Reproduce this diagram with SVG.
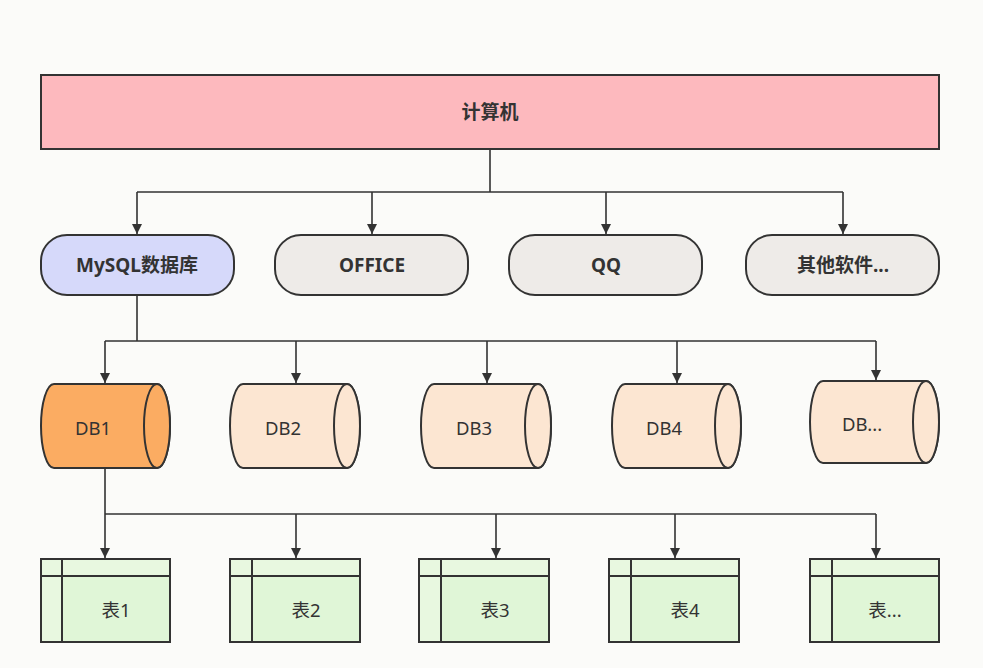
<svg xmlns="http://www.w3.org/2000/svg" width="983" height="668" viewBox="0 0 983 668">
<defs>
<marker id="arr" viewBox="0 0 10 10" refX="10" refY="5" markerWidth="10" markerHeight="10" markerUnits="userSpaceOnUse" orient="auto">
<path d="M0,0 L10,5 L0,10 z" fill="#333"/>
</marker>
<style>
text{font-family:"Noto Sans","Noto Sans CJK SC",sans-serif;fill:#333;text-anchor:middle;dominant-baseline:central}
.b{font-weight:bold;font-size:19px}
.r{font-size:18.5px}
.shape{stroke:#333;stroke-width:2}
.pill{fill:#EEEBE8}
.db{fill:#FCE6D2}
.tbl{fill:#E0F6D7}
.hdr{fill:#E8F8E0}
.line{fill:none;stroke:#333;stroke-width:2}
.conn{fill:none;stroke:#333;stroke-width:1.6}
</style>
</defs>
<rect width="983" height="668" fill="#FBFBF9"/>
<g id="computer">
<rect x="41" y="75" width="898" height="74" fill="#FDB9BE" class="shape"/>
<text x="490" y="112" class="b">计算机</text>
</g>
<g id="mysql">
<rect x="41" y="235" width="193" height="60" rx="26" fill="#D6D9FA" class="shape"/>
<text x="137" y="265" class="b">MySQL数据库</text>
</g>
<g id="office">
<rect x="275" y="235" width="193" height="60" rx="26" class="shape pill"/>
<text x="372" y="265" class="b">OFFICE</text>
</g>
<g id="qq">
<rect x="509" y="235" width="193" height="60" rx="26" class="shape pill"/>
<text x="606" y="265" class="b">QQ</text>
</g>
<g id="other">
<rect x="746" y="235" width="193" height="60" rx="26" class="shape pill"/>
<text x="843" y="265" class="b">其他软件...</text>
</g>
<g id="db1">
<path d="M54,384 L157,384 A13,42 0 0 1 157,468 L54,468 A13,42 0 0 1 54,384 Z" fill="#FBAC62" class="shape"/>
<ellipse cx="157" cy="426" rx="13" ry="42" fill="#FBAC62" class="shape"/>
<text x="93" y="427" class="r">DB1</text>
</g>
<g id="db2">
<path d="M243,384 L347,384 A13,42 0 0 1 347,468 L243,468 A13,42 0 0 1 243,384 Z" class="shape db"/>
<ellipse cx="347" cy="426" rx="13" ry="42" class="shape db"/>
<text x="283" y="427" class="r">DB2</text>
</g>
<g id="db3">
<path d="M434,384 L538,384 A13,42 0 0 1 538,468 L434,468 A13,42 0 0 1 434,384 Z" class="shape db"/>
<ellipse cx="538" cy="426" rx="13" ry="42" class="shape db"/>
<text x="474" y="427" class="r">DB3</text>
</g>
<g id="db4">
<path d="M625,384 L728,384 A13,42 0 0 1 728,468 L625,468 A13,42 0 0 1 625,384 Z" class="shape db"/>
<ellipse cx="728" cy="426" rx="13" ry="42" class="shape db"/>
<text x="664" y="427" class="r">DB4</text>
</g>
<g id="dbn">
<path d="M823,381 L926,381 A13,41 0 0 1 926,463 L823,463 A13,41 0 0 1 823,381 Z" class="shape db"/>
<ellipse cx="926" cy="422" rx="13" ry="41" class="shape db"/>
<text x="862" y="423" class="r">DB...</text>
</g>
<g id="t1">
<rect x="41" y="559" width="129" height="83" class="shape tbl"/>
<rect x="41" y="559" width="129" height="17" class="hdr"/>
<rect x="41" y="576" width="21" height="66" class="hdr"/>
<path d="M41,559 H170 V642 H41 Z M41,576 H170 M62,559 V642" class="line"/>
<text x="116" y="609" class="r">表1</text>
</g>
<g id="t2">
<rect x="230" y="559" width="130" height="83" class="shape tbl"/>
<rect x="230" y="559" width="130" height="17" class="hdr"/>
<rect x="230" y="576" width="22" height="66" class="hdr"/>
<path d="M230,559 H360 V642 H230 Z M230,576 H360 M252,559 V642" class="line"/>
<text x="306" y="609" class="r">表2</text>
</g>
<g id="t3">
<rect x="419" y="559" width="130" height="83" class="shape tbl"/>
<rect x="419" y="559" width="130" height="17" class="hdr"/>
<rect x="419" y="576" width="22" height="66" class="hdr"/>
<path d="M419,559 H549 V642 H419 Z M419,576 H549 M441,559 V642" class="line"/>
<text x="495" y="609" class="r">表3</text>
</g>
<g id="t4">
<rect x="609" y="559" width="130" height="83" class="shape tbl"/>
<rect x="609" y="559" width="130" height="17" class="hdr"/>
<rect x="609" y="576" width="22" height="66" class="hdr"/>
<path d="M609,559 H739 V642 H609 Z M609,576 H739 M631,559 V642" class="line"/>
<text x="685" y="609" class="r">表4</text>
</g>
<g id="tn">
<rect x="810" y="559" width="129" height="83" class="shape tbl"/>
<rect x="810" y="559" width="129" height="17" class="hdr"/>
<rect x="810" y="576" width="22" height="66" class="hdr"/>
<path d="M810,559 H939 V642 H810 Z M810,576 H939 M832,559 V642" class="line"/>
<text x="885" y="609" class="r">表...</text>
</g>
<g id="connectors">
<path d="M490,149 V192 M137,192 H843" class="conn"/>
<path d="M137,192 V234" class="conn" marker-end="url(#arr)"/>
<path d="M372,192 V234" class="conn" marker-end="url(#arr)"/>
<path d="M606,192 V234" class="conn" marker-end="url(#arr)"/>
<path d="M843,192 V234" class="conn" marker-end="url(#arr)"/>
<path d="M137,295 V341 M105,341 H876" class="conn"/>
<path d="M105,341 V383" class="conn" marker-end="url(#arr)"/>
<path d="M296,341 V383" class="conn" marker-end="url(#arr)"/>
<path d="M487,341 V383" class="conn" marker-end="url(#arr)"/>
<path d="M677,341 V383" class="conn" marker-end="url(#arr)"/>
<path d="M876,341 V380" class="conn" marker-end="url(#arr)"/>
<path d="M105,468 V514 M105,514 H876" class="conn"/>
<path d="M105,514 V558" class="conn" marker-end="url(#arr)"/>
<path d="M296,514 V558" class="conn" marker-end="url(#arr)"/>
<path d="M496,514 V558" class="conn" marker-end="url(#arr)"/>
<path d="M675,514 V558" class="conn" marker-end="url(#arr)"/>
<path d="M876,514 V558" class="conn" marker-end="url(#arr)"/>
</g>
</svg>
